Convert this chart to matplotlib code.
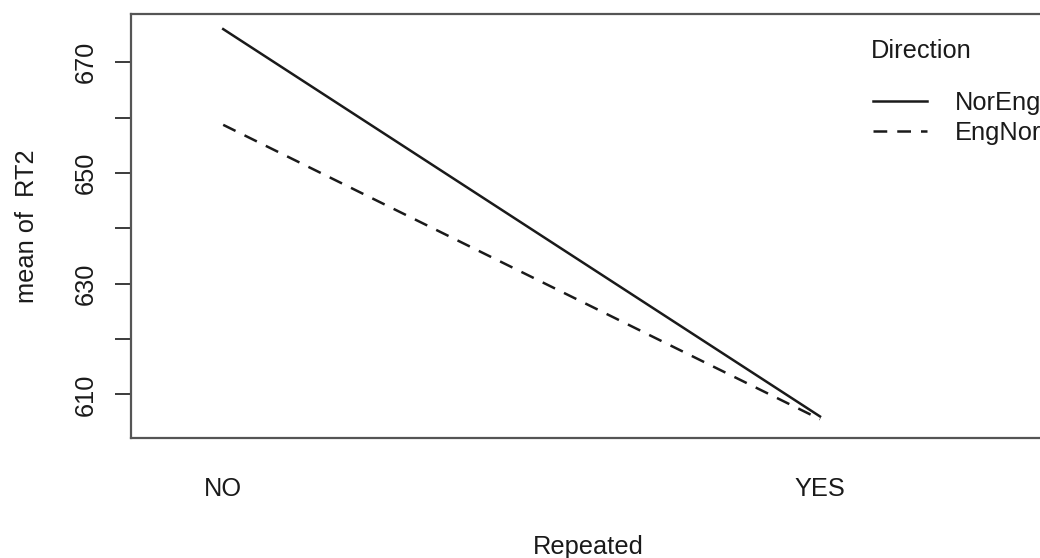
import matplotlib
matplotlib.use("Agg")
import matplotlib.pyplot as plt

plt.rcParams['font.family'] = ['Liberation Sans', 'DejaVu Sans']

# data
levels = ["NO", "YES"]
directions = ["NorEng", "EngNor"]
mean_rt2 = {
    "NorEng": [676.0, 606.0],
    "EngNor": [658.7, 605.5],
}
styles = {"NorEng": "-", "EngNor": (0, (5.5, 4))}
yticks = [610, 620, 630, 640, 650, 660, 670]
ylabels = ["610", "", "630", "", "650", "", "670"]

W, H = 1040, 558
fs = 18.3
ink = "#1a1a1a"

fig = plt.figure(figsize=(W / 100, H / 100), dpi=100)
# axes runs slightly past the right edge, as in the cropped original
ax = fig.add_axes([130.7 / W, 1 - 437.7 / H, (1045 - 130.7) / W, (437.7 - 14) / H])

xs = [1, 2]
for d in directions:
    ax.plot(xs, mean_rt2[d], linestyle=styles[d], color=ink, lw=1.8, label=d)

ax.set_xlim(0.845, 2.377)
ax.set_ylim(602.16, 678.73)

ax.set_xticks(xs)
ax.set_xticklabels(levels)
ax.tick_params(axis="x", length=0, pad=28, labelsize=fs, labelcolor=ink)

ax.set_yticks(yticks)
ax.set_yticklabels(ylabels, rotation=90, va="center")
ax.tick_params(axis="y", length=11.8, width=1.2, color=ink, pad=12, labelsize=fs, labelcolor=ink)

for s in ax.spines.values():
    s.set_color("#555555")
    s.set_linewidth(1.6)

ax.set_xlabel("Repeated", fontsize=fs, color=ink)
ax.xaxis.set_label_coords(0.5002, -0.2295)
ax.set_ylabel("mean of  RT2", fontsize=fs, color=ink)
ax.yaxis.set_label_coords(-0.1007, 0.5)

fig.text(871 / W, 1 - 58 / H, "Direction", fontsize=fs, color=ink, va="baseline")
leg = ax.legend(loc="upper left", bbox_to_anchor=(873 / W, 1 - 91 / H),
                bbox_transform=fig.transFigure, frameon=False, fontsize=fs,
                borderpad=0, borderaxespad=0, handlelength=54 / 25.4,
                handletextpad=(955 - 927) / 25.4, labelspacing=0.24)
for t in leg.get_texts():
    t.set_color(ink)

fig.savefig("out.png", dpi=100)
